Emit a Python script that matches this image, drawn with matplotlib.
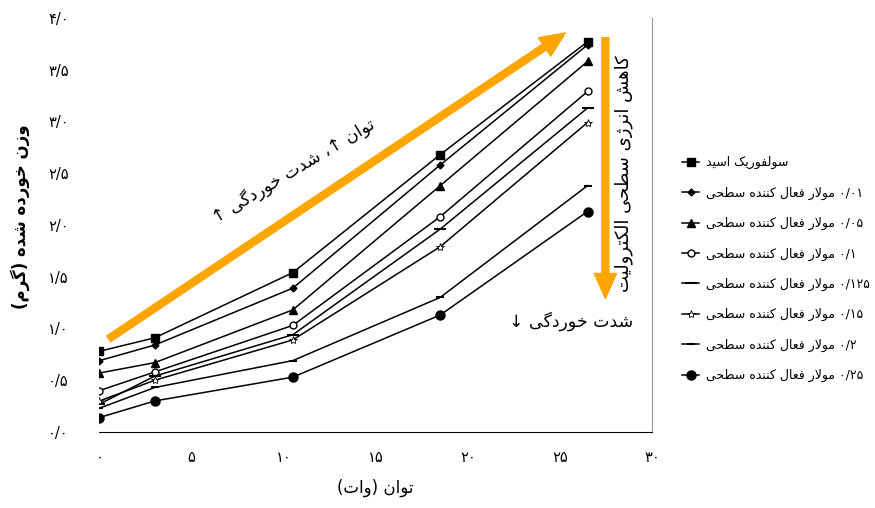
import matplotlib
matplotlib.use("Agg")
import matplotlib.pyplot as plt

plt.rcParams['font.family'] = ['DejaVu Sans']

# Data
power = [0, 3, 10.5, 18.5, 26.5]
series_labels = ['سولفوریک اسید',
                 '۰/۰۱ مولار فعال کننده سطحی',
                 '۰/۰۵ مولار فعال کننده سطحی',
                 '۰/۱ مولار فعال کننده سطحی',
                 '۰/۱۲۵ مولار فعال کننده سطحی',
                 '۰/۱۵ مولار فعال کننده سطحی',
                 '۰/۲ مولار فعال کننده سطحی',
                 '۰/۲۵ مولار فعال کننده سطحی']
acid = [0.78, 0.91, 1.54, 2.68, 3.77]
s001 = [0.69, 0.84, 1.39, 2.58, 3.74]
s005 = [0.57, 0.67, 1.18, 2.38, 3.58]
s01 = [0.40, 0.58, 1.03, 2.08, 3.29]
s0125 = [0.27, 0.54, 0.94, 1.96, 3.13]
s015 = [0.30, 0.50, 0.89, 1.79, 2.99]
s02 = [0.23, 0.43, 0.69, 1.30, 2.38]
s025 = [0.14, 0.30, 0.53, 1.13, 2.13]
weights = [acid, s001, s005, s01, s0125, s015, s02, s025]

x_ticks = [0, 5, 10, 15, 20, 25, 30]
x_tick_labels = ['۰', '۵', '۱۰', '۱۵', '۲۰', '۲۵', '۳۰']
y_ticks = [0, 0.5, 1.0, 1.5, 2.0, 2.5, 3.0, 3.5, 4.0]
y_tick_labels = ['۰/۰', '۰/۵', '۱/۰', '۱/۵', '۲/۰', '۲/۵', '۳/۰', '۳/۵', '۴/۰']

# --- minimal Persian shaping + bidi (no arabic_reshaper here) ---
FORMS = {
    'ا': (0xFE8D, 0xFE8E, None, None), 'آ': (0xFE81, 0xFE82, None, None),
    'ب': (0xFE8F, 0xFE90, 0xFE91, 0xFE92), 'پ': (0xFB56, 0xFB57, 0xFB58, 0xFB59),
    'ت': (0xFE95, 0xFE96, 0xFE97, 0xFE98), 'ث': (0xFE99, 0xFE9A, 0xFE9B, 0xFE9C),
    'ج': (0xFE9D, 0xFE9E, 0xFE9F, 0xFEA0), 'چ': (0xFB7A, 0xFB7B, 0xFB7C, 0xFB7D),
    'ح': (0xFEA1, 0xFEA2, 0xFEA3, 0xFEA4), 'خ': (0xFEA5, 0xFEA6, 0xFEA7, 0xFEA8),
    'د': (0xFEA9, 0xFEAA, None, None), 'ذ': (0xFEAB, 0xFEAC, None, None),
    'ر': (0xFEAD, 0xFEAE, None, None), 'ز': (0xFEAF, 0xFEB0, None, None),
    'ژ': (0xFB8A, 0xFB8B, None, None),
    'س': (0xFEB1, 0xFEB2, 0xFEB3, 0xFEB4), 'ش': (0xFEB5, 0xFEB6, 0xFEB7, 0xFEB8),
    'ص': (0xFEB9, 0xFEBA, 0xFEBB, 0xFEBC), 'ض': (0xFEBD, 0xFEBE, 0xFEBF, 0xFEC0),
    'ط': (0xFEC1, 0xFEC2, 0xFEC3, 0xFEC4), 'ظ': (0xFEC5, 0xFEC6, 0xFEC7, 0xFEC8),
    'ع': (0xFEC9, 0xFECA, 0xFECB, 0xFECC), 'غ': (0xFECD, 0xFECE, 0xFECF, 0xFED0),
    'ف': (0xFED1, 0xFED2, 0xFED3, 0xFED4), 'ق': (0xFED5, 0xFED6, 0xFED7, 0xFED8),
    'ک': (0xFB8E, 0xFB8F, 0xFB90, 0xFB91), 'گ': (0xFB92, 0xFB93, 0xFB94, 0xFB95),
    'ل': (0xFEDD, 0xFEDE, 0xFEDF, 0xFEE0), 'م': (0xFEE1, 0xFEE2, 0xFEE3, 0xFEE4),
    'ن': (0xFEE5, 0xFEE6, 0xFEE7, 0xFEE8), 'ه': (0xFEE9, 0xFEEA, 0xFEEB, 0xFEEC),
    'و': (0xFEED, 0xFEEE, None, None), 'ی': (0xFBFC, 0xFBFD, 0xFBFE, 0xFBFF),
}
LTR_CHARS = set('۰۱۲۳۴۵۶۷۸۹0123456789/.')
MIRROR = {'(': ')', ')': '('}


def shape(text):
    out = []
    i = 0
    prev_joins = False
    while i < len(text):
        ch = text[i]
        nxt = text[i + 1] if i + 1 < len(text) else ''
        if ch == 'ل' and nxt in ('ا', 'آ'):
            lig = {'ا': (0xFEFB, 0xFEFC), 'آ': (0xFEF5, 0xFEF6)}[nxt]
            out.append(chr(lig[1] if prev_joins else lig[0]))
            prev_joins = False
            i += 2
            continue
        if ch in FORMS:
            iso, fin, ini, med = FORMS[ch]
            joins_next = ini is not None and nxt in FORMS
            if prev_joins and joins_next:
                out.append(chr(med))
            elif prev_joins:
                out.append(chr(fin))
            elif joins_next:
                out.append(chr(ini))
            else:
                out.append(chr(iso))
            prev_joins = joins_next
        else:
            out.append(ch)
            prev_joins = False
        i += 1
    # visual order: reverse, then put number runs back in LTR order
    rev = [MIRROR.get(c, c) for c in reversed(out)]
    res, run = [], []
    for c in rev:
        if c in LTR_CHARS:
            run.append(c)
        else:
            res.extend(reversed(run))
            run = []
            res.append(c)
    res.extend(reversed(run))
    return ''.join(res)


fig = plt.figure(figsize=(8.75, 5.08), dpi=100)
ax = fig.add_axes([0.1137, 0.1496, 0.6314, 0.815])

markers = [dict(marker='s', ms=6, mfc='black'),
           dict(marker='D', ms=3.5, mfc='black'),
           dict(marker='^', ms=6, mfc='black'),
           dict(marker='o', ms=5, mfc='white'),
           dict(marker='_', ms=8, mew=1.5),
           dict(marker='*', ms=6, mfc='white', mew=0.6),
           dict(marker='_', ms=6, mew=1.5),
           dict(marker='o', ms=6.5, mfc='black')]

for vals, lab, mk in zip(weights, series_labels, markers):
    ax.plot(power, vals, color='black', lw=1.1, mec='black',
            label=shape(lab), **mk)

ax.set_xlim(0, 30)
ax.set_ylim(0, 4.0)
ax.set_xticks(x_ticks)
ax.set_xticklabels(x_tick_labels, fontsize=10.5)
ax.set_yticks(y_ticks)
ax.set_yticklabels(y_tick_labels, fontsize=10.5)
ax.tick_params(axis='both', which='major', length=0)
ax.tick_params(axis='x', pad=13)
ax.tick_params(axis='y', pad=22)
# the original only shows a few stray tick marks
ax.set_xticks([5, 15, 20, 25, 30], minor=True)
ax.set_yticks([0.5, 2.0], minor=True)
ax.tick_params(axis='both', which='minor', length=5, width=0.8, direction='out')

ax.spines['top'].set_visible(False)
ax.spines['left'].set_visible(False)
ax.spines['right'].set_color('#999999')
ax.spines['bottom'].set_color('black')

ax.set_xlabel(shape('توان (وات)'), fontsize=12, labelpad=10)
ax.set_ylabel(shape('وزن خورده شده (گرم)'), fontsize=12, fontweight='bold')
ax.yaxis.set_label_coords(-0.125, 0.52)

orange = '#FFA500'
arrow_style = 'simple,head_width=1.6,head_length=1.8,tail_width=0.5'
ax.annotate('', xy=(25.3, 3.855), xytext=(0.5, 0.90),
            arrowprops=dict(arrowstyle=arrow_style, color=orange, mutation_scale=10,
                            shrinkA=0, shrinkB=0))
ax.annotate('', xy=(27.47, 1.29), xytext=(27.47, 3.81),
            arrowprops=dict(arrowstyle=arrow_style, color=orange, mutation_scale=10,
                            shrinkA=0, shrinkB=0))

ax.text(10.5, 2.53, shape('توان ↑، شدت خوردگی ↑'), rotation=31, rotation_mode='anchor',
        ha='center', va='center', fontsize=12.5)
ax.text(25.6, 1.07, shape('شدت خوردگی ↓'), ha='center', va='center', fontsize=12.5)
ax.text(28.45, 2.50, shape('کاهش انرژی سطحی الکترولیت'), rotation=90,
        ha='center', va='center', fontsize=13)

fig.legend(loc='center left', bbox_to_anchor=(0.772, 0.47), frameon=False,
           fontsize=9, handlelength=1.4, handletextpad=0.5, labelspacing=1.38,
           borderpad=0)

fig.savefig('out.png', dpi=100)
